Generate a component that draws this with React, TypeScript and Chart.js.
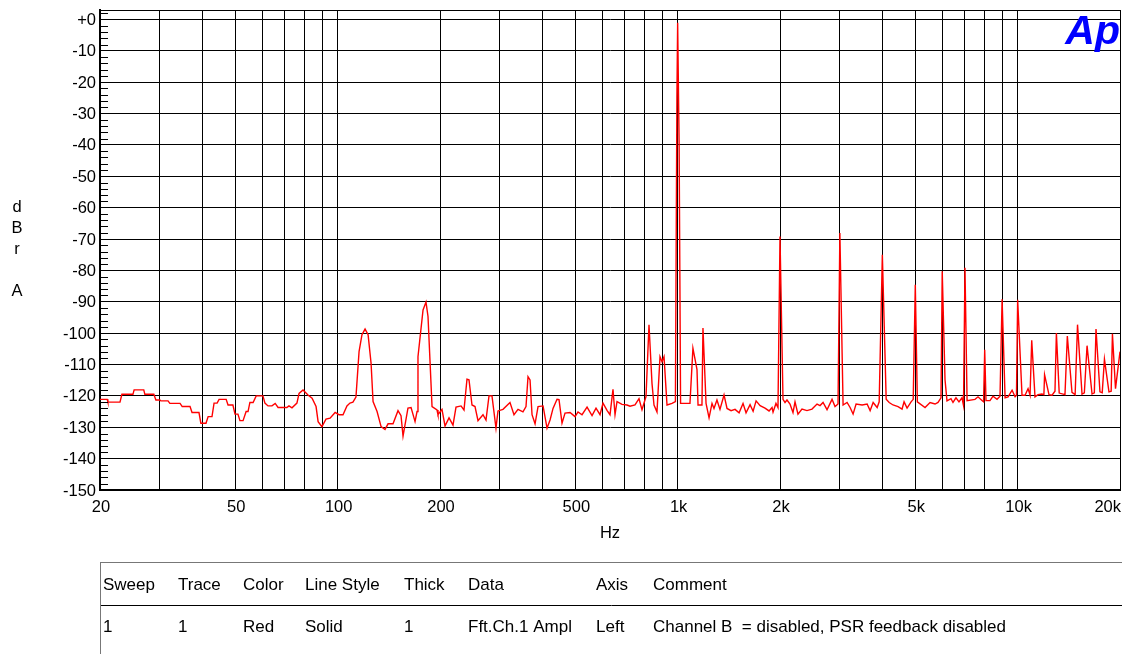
import React, { useEffect, useRef } from "react";
import { Chart, registerables } from "chart.js";

Chart.register(...registerables);

// ---- Data (frequency in Hz, level in dBr A) ----
const freqs: number[] = [
  20, 21, 21.1, 22.9, 23.2, 25.0, 25.2, 26.9, 27.1, 28.8, 29.2, 30.0, 30.2, 31.7, 32.1, 34.4, 34.9, 36.8,
  37.3, 39.1, 39.6, 41.0, 41.6, 42.7, 43.3, 44.2, 44.8, 47.0, 47.6, 49.2, 49.9, 50.9, 51.6, 52.7, 53.8,
  54.5, 55.2, 56.4, 57.6, 60.3, 61.1, 62.4, 64.1, 65.5, 66.8, 70.9, 71.9, 73.4, 75.9, 77.0, 79.1, 81.8,
  84.1, 86.4, 87.6, 89.9, 92.4, 95.0, 98.3, 100.9, 103.7, 106.5, 108.7, 110.9, 113.2, 115.6, 117.9,
  120.4, 122.9, 125.4, 127.1, 130.6, 134.2, 137.8, 140.7, 145.5, 150.5, 153.6, 155.7, 161.0, 164.4,
  168.9, 171.2, 172.3, 178.3, 181.9, 184.4, 186.9, 189.5, 196.0, 197.3, 202.7, 206.9, 212.6, 218.4,
  222.9, 230.6, 235.3, 240.1, 243.4, 248.4, 253.5, 258.7, 267.6, 273.1, 278.7, 284.4, 292.2, 296.2,
  306.4, 321.3, 330.1, 339.2, 350.8, 358.1, 363.0, 368.0, 373.0, 380.7, 388.5, 401.9, 412.9, 421.4,
  430.0, 441.8, 447.8, 457.0, 466.4, 482.5, 499.1, 509.3, 523.3, 541.4, 560.0, 575.3, 591.1, 603.2,
  619.8, 632.5, 645.4, 654.3, 663.2, 686.0, 709.6, 724.2, 749.1, 769.7, 785.5, 807.1, 823.6, 840.5,
  852.0, 869.4, 887.4, 899.5, 911.8, 930.5, 962.6, 985, 995, 1000, 1010, 1020, 1037, 1087, 1109, 1140,
  1148, 1179, 1187, 1212, 1237, 1262, 1279, 1305, 1332, 1369, 1397, 1436, 1475, 1516, 1557, 1589,
  1633, 1667, 1701, 1748, 1807, 1857, 1895, 1908, 1946, 1973, 2000, 2041, 2069, 2097, 2140, 2184,
  2214, 2259, 2321, 2401, 2484, 2570, 2623, 2677, 2750, 2845, 2903, 2963, 3000, 3066, 3150, 3215,
  3281, 3348, 3488, 3608, 3682, 3758, 3862, 3915, 4000, 4105, 4189, 4300, 4449, 4571, 4634, 4729,
  4859, 4930, 5000, 5070, 5341, 5525, 5715, 5832, 5951, 6000, 6114, 6197, 6367, 6454, 6586, 6721,
  6859, 6930, 7000, 7100, 7491, 7645, 7855, 7940, 8000, 8070, 8292, 8463, 8696, 8875, 9000, 9184,
  9372, 9630, 9828, 9920, 10000, 10300, 10514, 10729, 10876, 11000, 11247, 11477, 11786, 11946,
  12000, 12365, 12620, 12876, 13000, 13250, 13779, 14000, 14448, 14760, 15000, 15464, 15710, 16000,
  16550, 16810, 17000, 17460, 17730, 18000, 18560, 18840, 19000, 19400, 20000,
];

const levels: number[] = [
  -121.1, -121.1, -122.0, -122.0, -119.5, -119.5, -118.1, -118.1, -119.5, -119.5, -121.3, -121.3,
  -121.6, -121.6, -122.4, -122.4, -123.4, -123.4, -125.3, -125.3, -128.7, -128.7, -126.6, -126.6,
  -122.3, -122.3, -121.1, -121.1, -122.9, -122.9, -125.8, -125.8, -127.9, -127.9, -125.0, -125.0,
  -122.1, -122.1, -120.0, -120.0, -122.3, -123.2, -123.2, -122.4, -123.7, -123.7, -123.2, -123.8,
  -122.3, -119.2, -118.1, -119.7, -120.7, -123.4, -128.2, -129.8, -127.4, -127.1, -125.3, -126.0,
  -126.0, -123.2, -122.3, -122.0, -120.4, -105.9, -100.5, -98.7, -100.5, -109.6, -121.8, -125.0,
  -129.8, -130.7, -128.9, -128.9, -124.7, -126.3, -132.8, -123.9, -123.7, -128.2, -125.0, -107.5,
  -92.6, -90.1, -94.7, -108.8, -123.4, -124.5, -126.0, -124.3, -129.6, -127.0, -129.3, -123.6,
  -123.2, -124.5, -114.7, -114.9, -122.9, -123.4, -127.9, -126.0, -127.7, -120.0, -120.0, -130.3,
  -124.8, -124.3, -122.1, -126.0, -124.3, -125.1, -123.4, -113.9, -114.9, -126.0, -128.9, -123.4,
  -123.2, -130.3, -127.7, -124.0, -121.1, -121.2, -128.7, -125.5, -125.3, -126.6, -125.1, -126.0,
  -123.6, -126.3, -123.9, -126.0, -122.3, -124.6, -126.0, -117.9, -126.0, -121.8, -122.7, -122.9,
  -123.3, -122.9, -120.9, -124.4, -120.2, -97.3, -116.0, -122.9, -125.1, -107.5, -109.1, -107.5,
  -122.9, -122.4, -121.8, -25.0, -1.1, -40.0, -122.4, -122.4, -122.4, -104.8, -111.6, -122.9, -122.9,
  -98.4, -122.4, -127.0, -122.4, -124.0, -121.3, -124.3, -119.7, -124.0, -124.7, -124.3, -125.4,
  -122.4, -125.4, -122.8, -124.9, -121.6, -123.1, -123.9, -124.8, -123.7, -125.2, -122.4, -123.7,
  -69.2, -121.1, -122.1, -121.3, -122.6, -125.3, -121.9, -125.8, -124.2, -124.7, -124.2, -122.6,
  -123.1, -122.1, -124.4, -121.1, -123.4, -122.6, -68.1, -122.9, -122.1, -123.7, -125.8, -122.6,
  -122.9, -122.6, -124.7, -122.1, -123.7, -121.9, -75.0, -121.1, -122.1, -122.9, -123.4, -124.2,
  -121.9, -123.9, -121.9, -121.1, -84.6, -121.9, -123.7, -122.1, -122.6, -122.1, -120.6, -80.3,
  -114.8, -121.6, -120.9, -122.1, -120.6, -121.9, -120.6, -123.0, -79.2, -121.5, -121.1, -120.3,
  -121.5, -121.9, -105.3, -121.5, -121.5, -120.1, -121.1, -120.1, -89.2, -120.6, -120.3, -118.2,
  -120.3, -119.8, -89.4, -119.8, -119.8, -117.7, -119.8, -102.3, -120.3, -119.6, -119.4, -119.6,
  -113.3, -119.6, -119.8, -118.5, -100.0, -119.1, -119.6, -100.9, -118.9, -119.6, -97.3, -119.4,
  -119.0, -104.0, -119.4, -119.0, -98.7, -118.7, -119.0, -108.3, -118.7, -118.5, -100.2, -117.7,
  -105.9,
];

const yTickValues: number[] = [0, -10, -20, -30, -40, -50, -60, -70, -80, -90, -100, -110, -120, -130, -140, -150];
const xGridValues: number[] = [
  20, 30, 40, 50, 60, 70, 80, 90, 100, 200, 300, 400, 500, 600, 700, 800, 900,
  1000, 2000, 3000, 4000, 5000, 6000, 7000, 8000, 9000, 10000, 20000,
];
const xLabelValues: number[] = [20, 50, 100, 200, 500, 1000, 2000, 5000, 10000, 20000];
const xLabelTexts: string[] = ["20", "50", "100", "200", "500", "1k", "2k", "5k", "10k", "20k"];

const tableHeader: string[] = ["Sweep", "Trace", "Color", "Line Style", "Thick", "Data", "Axis", "Comment"];
const tableRow: string[] = ["1", "1", "Red", "Solid", "1", "Fft.Ch.1 Ampl", "Left", "Channel B  = disabled, PSR feedback disabled"];
const tableColX: number[] = [103, 178, 243, 305, 404, 468, 596, 653];

const FONT = '"Liberation Sans", Arial, sans-serif';

const overlayPlugin = {
  id: "apOverlay",
  afterDraw(chart: any) {
    const ctx = chart.ctx as CanvasRenderingContext2D;
    const area = chart.chartArea;
    const xs = chart.scales.x;
    const ys = chart.scales.y;
    ctx.save();

    // top border of plot
    ctx.strokeStyle = "#000";
    ctx.lineWidth = 1;
    ctx.beginPath();
    ctx.moveTo(area.left, Math.round(area.top) + 0.5);
    ctx.lineTo(area.right, Math.round(area.top) + 0.5);
    ctx.stroke();

    // minor ticks on the left axis every 2 dB
    ctx.beginPath();
    for (let v = -148; v <= 2; v += 2) {
      if (v % 10 === 0) continue;
      const py = Math.round(ys.getPixelForValue(v)) + 0.5;
      ctx.moveTo(area.left, py);
      ctx.lineTo(area.left + 8, py);
    }
    ctx.stroke();

    // y tick labels
    ctx.fillStyle = "#000";
    ctx.font = `16.5px ${FONT}`;
    ctx.textAlign = "right";
    ctx.textBaseline = "middle";
    yTickValues.forEach((v) => {
      ctx.fillText(v === 0 ? "+0" : String(v), 96, ys.getPixelForValue(v) + 1);
    });

    // x tick labels
    xLabelValues.forEach((v, i) => {
      const px = xs.getPixelForValue(v);
      if (i === xLabelValues.length - 1) {
        ctx.textAlign = "right";
        ctx.fillText(xLabelTexts[i], area.right + 1, 507);
      } else {
        ctx.textAlign = "center";
        ctx.fillText(xLabelTexts[i], px + 1, 507);
      }
    });

    // axis titles
    ctx.textAlign = "center";
    ctx.fillText("Hz", (area.left + area.right) / 2, 533);
    ctx.fillText("d", 17, 207);
    ctx.fillText("B", 17, 228);
    ctx.fillText("r", 17, 249);
    ctx.fillText("A", 17, 291);

    // Ap logo
    ctx.fillStyle = "#0000ff";
    ctx.font = `italic bold 41px ${FONT}`;
    ctx.textAlign = "right";
    ctx.textBaseline = "alphabetic";
    ctx.fillText("Ap", 1120, 44);

    // table
    ctx.strokeStyle = "#777";
    ctx.lineWidth = 1;
    ctx.beginPath();
    ctx.moveTo(100, 562.5);
    ctx.lineTo(1122, 562.5);
    ctx.moveTo(100.5, 562);
    ctx.lineTo(100.5, 654);
    ctx.stroke();
    ctx.strokeStyle = "#000";
    ctx.beginPath();
    ctx.moveTo(101, 605.5);
    ctx.lineTo(1122, 605.5);
    ctx.stroke();

    ctx.fillStyle = "#000";
    ctx.font = `17px ${FONT}`;
    ctx.textAlign = "left";
    ctx.textBaseline = "middle";
    tableHeader.forEach((t, i) => ctx.fillText(t, tableColX[i], 585));
    tableRow.forEach((t, i) => ctx.fillText(t, tableColX[i], 627));

    ctx.restore();
  },
};

export default function App() {
  const canvasRef = useRef<HTMLCanvasElement | null>(null);

  useEffect(() => {
    document.body.style.margin = "0";
    const canvas = canvasRef.current;
    if (!canvas) return;
    const points = freqs.map((f, i) => ({ x: f, y: levels[i] }));
    const chart = new Chart(canvas, {
      type: "line",
      data: {
        datasets: [
          {
            data: points,
            borderColor: "#ff0000",
            borderWidth: 1.4,
            pointRadius: 0,
            tension: 0,
            fill: false,
          },
        ],
      },
      options: {
        animation: false,
        responsive: false,
        layout: { padding: { left: 0, top: 10, right: 2, bottom: 0 } },
        plugins: { legend: { display: false }, tooltip: { enabled: false }, title: { display: false } },
        scales: {
          x: {
            type: "logarithmic",
            min: 20,
            max: 20000,
            ticks: { display: false },
            grid: { color: "#000", lineWidth: 1, drawTicks: false },
            border: { display: true, color: "#000", width: 2 },
            afterBuildTicks: (s: any) => {
              s.ticks = xGridValues.map((v) => ({ value: v }));
            },
            afterFit: (s: any) => {
              s.height = 164;
            },
          },
          y: {
            type: "linear",
            min: -150,
            max: 3,
            ticks: { display: false },
            grid: { color: "#000", lineWidth: 1, drawTicks: false },
            border: { display: true, color: "#000", width: 2 },
            afterBuildTicks: (s: any) => {
              s.ticks = yTickValues.slice().reverse().map((v) => ({ value: v }));
            },
            afterFit: (s: any) => {
              s.width = 100;
            },
          },
        },
      },
      plugins: [overlayPlugin],
    });
    return () => chart.destroy();
  }, []);

  return (
    <div style={{ position: "absolute", left: 0, top: 0, width: 1122, height: 654, background: "#fff" }}>
      <canvas ref={canvasRef} width={1122} height={654} style={{ display: "block" }} />
    </div>
  );
}
